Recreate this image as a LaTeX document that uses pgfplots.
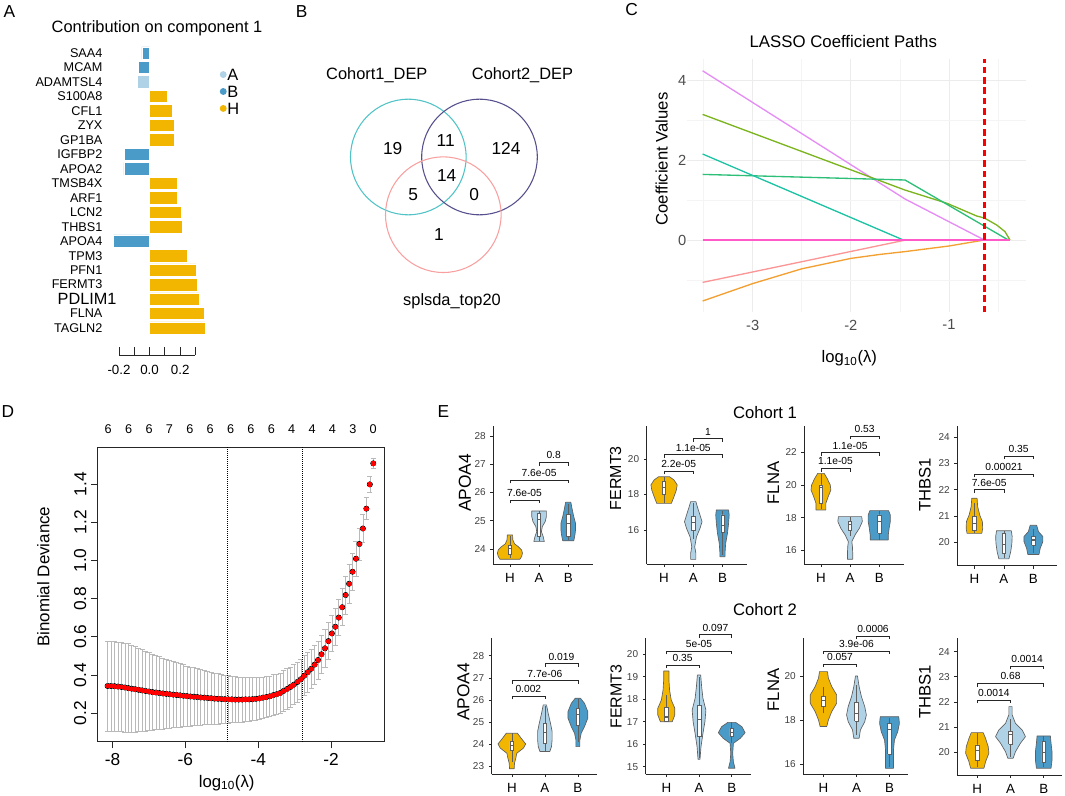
\documentclass[border=0pt]{standalone}
\usepackage{fontspec}
\setmainfont{Liberation Sans}
\usepackage{pgfplots}
\usepackage{pgfplotstable}
\pgfplotsset{compat=1.18}

\newcommand{\fs}[1]{\fontsize{#1}{#1}\selectfont}

\definecolor{colH}{RGB}{242,182,0}
\definecolor{colA}{RGB}{176,210,230}
\definecolor{colB}{RGB}{75,155,200}
\definecolor{vgray}{RGB}{95,95,95}
\definecolor{venn1}{RGB}{80,195,198}
\definecolor{venn2}{RGB}{85,80,140}
\definecolor{venn3}{RGB}{248,160,160}
\definecolor{cviolet}{RGB}{229,140,245}
\definecolor{colive}{RGB}{124,180,30}
\definecolor{cgreen}{RGB}{45,190,120}
\definecolor{cteal}{RGB}{30,195,165}
\definecolor{csalmon}{RGB}{252,150,150}
\definecolor{corange}{RGB}{242,160,50}
\definecolor{cmag}{RGB}{255,90,200}
\definecolor{grid1}{RGB}{236,236,236}
\definecolor{grid2}{RGB}{244,244,244}
\definecolor{dotred}{RGB}{255,0,0}

\pgfplotsset{
  /pgf/number format/assume math mode=true,
  vstyle/.style={
    scale only axis, anchor=south west, clip=false,
    axis lines=left, axis line style={-, black!85, line width=0.5pt},
    tick align=outside, major tick length=2.2pt, tick style={black!85, line width=0.5pt},
    xtick={1,2,3}, xticklabels={H,A,B},
    xticklabel style={font=\fs{10}, black, yshift=-1pt},
    yticklabel style={font=\fs{7.5}, black!75},
  },
}

% violin outline: w = signed half width, right side up then left side down
\newcommand{\violin}[3]{%
  \addplot[fill=#2, draw=vgray, line width=0.5pt, line join=round] table[x expr=#1+\thisrow{w}, y=y] {#3};
}
% box: centre, lower whisker, lower quartile, median, upper quartile, upper whisker
\pgfplotstableread[row sep=\\]{dx q\\ -0.057 0\\ 0.057 0\\ 0.057 1\\ -0.057 1\\ -0.057 0\\}\boxshape
\pgfplotstableread[row sep=\\]{dx q\\ -0.057 0\\ 0.057 0\\}\medshape
\newcommand{\boxp}[6]{%
  \addplot[vgray, line width=0.45pt] coordinates {(#1,#2) (#1,#6)};
  \addplot[fill=white, draw=vgray, line width=0.45pt] table[x expr=#1+\thisrow{dx}, y expr=#3+\thisrow{q}*(#5-#3)] {\boxshape};
  \addplot[vgray, line width=0.8pt] table[x expr=#1+\thisrow{dx}, y expr=#4+\thisrow{q}] {\medshape};
}
\newcommand{\brk}[6]{%
  \addplot[black!85, line width=0.5pt] coordinates {(#1,#5) (#1,#4) (#2,#4) (#2,#5)};
  \node[font=\fs{7.7}, anchor=south, inner sep=0pt, yshift=2.2pt] at (axis cs:#3,#4) {#6};
}

% cohort 1
\pgfplotstableread[row sep=\\]{w y\\ 0.34 23.634\\ 0.40 23.73\\ 0.43 23.85\\ 0.40 23.965\\ 0.29 24.08\\ 0.16 24.18\\ 0.10 24.32\\ 0.09 24.496\\ -0.09 24.496\\ -0.10 24.32\\ -0.16 24.18\\ -0.29 24.08\\ -0.40 23.965\\ -0.43 23.85\\ -0.40 23.73\\ -0.34 23.634\\ 0.34 23.634\\}\vaH
\pgfplotstableread[row sep=\\]{w y\\ 0.18 24.26\\ 0.14 24.44\\ 0.08 24.61\\ 0.11 24.79\\ 0.21 24.97\\ 0.25 25.145\\ 0.25 25.345\\ -0.25 25.345\\ -0.25 25.145\\ -0.21 24.97\\ -0.11 24.79\\ -0.08 24.61\\ -0.14 24.44\\ -0.18 24.26\\ 0.18 24.26\\}\vaA
\pgfplotstableread[row sep=\\]{w y\\ 0.19 24.29\\ 0.23 24.50\\ 0.25 24.67\\ 0.25 24.91\\ 0.19 25.14\\ 0.14 25.38\\ 0.09 25.65\\ -0.09 25.65\\ -0.14 25.38\\ -0.19 25.14\\ -0.25 24.91\\ -0.25 24.67\\ -0.23 24.50\\ -0.19 24.29\\ 0.19 24.29\\}\vaB
\pgfplotstableread[row sep=\\]{w y\\ 0.25 17.50\\ 0.34 17.88\\ 0.42 18.25\\ 0.45 18.54\\ 0.34 18.82\\ 0.19 19.0\\ -0.19 19.0\\ -0.34 18.82\\ -0.45 18.54\\ -0.42 18.25\\ -0.34 17.88\\ -0.25 17.50\\ 0.25 17.50\\}\vbH
\pgfplotstableread[row sep=\\]{w y\\ 0.09 14.35\\ 0.09 14.69\\ 0.05 15.06\\ 0.11 15.62\\ 0.23 16.09\\ 0.30 16.47\\ 0.23 16.85\\ 0.14 17.31\\ 0.09 17.60\\ -0.09 17.60\\ -0.14 17.31\\ -0.23 16.85\\ -0.30 16.47\\ -0.23 16.09\\ -0.11 15.62\\ -0.05 15.06\\ -0.09 14.69\\ -0.09 14.35\\ 0.09 14.35\\}\vbA
\pgfplotstableread[row sep=\\]{w y\\ 0.09 14.50\\ 0.09 14.78\\ 0.11 15.25\\ 0.17 15.81\\ 0.21 16.38\\ 0.23 16.85\\ 0.21 17.13\\ -0.21 17.13\\ -0.23 16.85\\ -0.21 16.38\\ -0.17 15.81\\ -0.11 15.25\\ -0.09 14.78\\ -0.09 14.50\\ 0.09 14.50\\}\vbB
\pgfplotstableread[row sep=\\]{w y\\ 0.17 18.47\\ 0.17 18.88\\ 0.25 19.29\\ 0.34 19.69\\ 0.32 20.0\\ 0.21 20.41\\ 0.11 20.71\\ -0.11 20.71\\ -0.21 20.41\\ -0.32 20.0\\ -0.34 19.69\\ -0.25 19.29\\ -0.17 18.88\\ -0.17 18.47\\ 0.17 18.47\\}\vcH
\pgfplotstableread[row sep=\\]{w y\\ 0.09 15.45\\ 0.09 15.82\\ 0.08 16.22\\ 0.06 16.53\\ 0.17 16.94\\ 0.32 17.35\\ 0.42 17.76\\ 0.40 18.06\\ -0.40 18.06\\ -0.42 17.76\\ -0.32 17.35\\ -0.17 16.94\\ -0.06 16.53\\ -0.08 16.22\\ -0.09 15.82\\ -0.09 15.45\\ 0.09 15.45\\}\vcA
\pgfplotstableread[row sep=\\]{w y\\ 0.31 16.63\\ 0.31 16.94\\ 0.34 17.35\\ 0.38 17.76\\ 0.38 18.16\\ 0.32 18.43\\ -0.32 18.43\\ -0.38 18.16\\ -0.38 17.76\\ -0.34 17.35\\ -0.31 16.94\\ -0.31 16.63\\ 0.31 16.63\\}\vcB
\pgfplotstableread[row sep=\\]{w y\\ 0.25 20.34\\ 0.28 20.53\\ 0.27 20.79\\ 0.18 21.04\\ 0.11 21.36\\ 0.09 21.68\\ -0.09 21.68\\ -0.11 21.36\\ -0.18 21.04\\ -0.27 20.79\\ -0.28 20.53\\ -0.25 20.34\\ 0.25 20.34\\}\vdH
\pgfplotstableread[row sep=\\]{w y\\ 0.17 19.37\\ 0.23 19.64\\ 0.27 19.96\\ 0.28 20.22\\ 0.25 20.44\\ -0.25 20.44\\ -0.28 20.22\\ -0.27 19.96\\ -0.23 19.64\\ -0.17 19.37\\ 0.17 19.37\\}\vdA
\pgfplotstableread[row sep=\\]{w y\\ 0.19 19.54\\ 0.23 19.77\\ 0.32 20.03\\ 0.32 20.22\\ 0.17 20.41\\ 0.11 20.65\\ -0.11 20.65\\ -0.17 20.41\\ -0.32 20.22\\ -0.32 20.03\\ -0.23 19.77\\ -0.19 19.54\\ 0.19 19.54\\}\vdB
% cohort 2
\pgfplotstableread[row sep=\\]{w y\\ 0.07 22.9\\ 0.08 23.15\\ 0.12 23.38\\ 0.15 23.6\\ 0.35 23.83\\ 0.42 24.02\\ 0.28 24.28\\ 0.17 24.5\\ -0.17 24.5\\ -0.28 24.28\\ -0.42 24.02\\ -0.35 23.83\\ -0.15 23.6\\ -0.12 23.38\\ -0.08 23.15\\ -0.07 22.9\\ 0.07 22.9\\}\veH
\pgfplotstableread[row sep=\\]{w y\\ 0.15 23.68\\ 0.20 23.9\\ 0.22 24.2\\ 0.22 24.58\\ 0.17 24.95\\ 0.10 25.4\\ 0.05 25.78\\ -0.05 25.78\\ -0.10 25.4\\ -0.17 24.95\\ -0.22 24.58\\ -0.22 24.2\\ -0.20 23.9\\ -0.15 23.68\\ 0.15 23.68\\}\veA
\pgfplotstableread[row sep=\\]{w y\\ 0.06 23.9\\ 0.06 24.2\\ 0.10 24.5\\ 0.20 24.8\\ 0.30 25.18\\ 0.30 25.48\\ 0.20 25.85\\ 0.08 26.08\\ -0.08 26.08\\ -0.20 25.85\\ -0.30 25.48\\ -0.30 25.18\\ -0.20 24.8\\ -0.10 24.5\\ -0.06 24.2\\ -0.06 23.9\\ 0.06 23.9\\}\veB
\pgfplotstableread[row sep=\\]{w y\\ 0.18 17.0\\ 0.26 17.3\\ 0.26 17.6\\ 0.15 17.97\\ 0.10 18.41\\ 0.08 18.86\\ 0.08 19.26\\ -0.08 19.26\\ -0.08 18.86\\ -0.10 18.41\\ -0.15 17.97\\ -0.26 17.6\\ -0.26 17.3\\ -0.18 17.0\\ 0.18 17.0\\}\vfH
\pgfplotstableread[row sep=\\]{w y\\ 0.03 15.33\\ 0.06 15.89\\ 0.12 16.48\\ 0.18 17.0\\ 0.21 17.52\\ 0.12 18.04\\ 0.08 18.56\\ 0.05 19.08\\ -0.05 19.08\\ -0.08 18.56\\ -0.12 18.04\\ -0.21 17.52\\ -0.18 17.0\\ -0.12 16.48\\ -0.06 15.89\\ -0.03 15.33\\ 0.03 15.33\\}\vfA
\pgfplotstableread[row sep=\\]{w y\\ 0.10 14.93\\ 0.05 15.22\\ 0.03 15.59\\ 0.05 16.04\\ 0.26 16.26\\ 0.41 16.51\\ 0.31 16.78\\ 0.12 16.97\\ -0.12 16.97\\ -0.31 16.78\\ -0.41 16.51\\ -0.26 16.26\\ -0.05 16.04\\ -0.03 15.59\\ -0.05 15.22\\ -0.10 14.93\\ 0.10 14.93\\}\vfB
\pgfplotstableread[row sep=\\]{w y\\ 0.10 17.7\\ 0.15 18.0\\ 0.25 18.38\\ 0.40 18.76\\ 0.40 19.14\\ 0.25 19.52\\ 0.15 19.9\\ 0.12 20.2\\ -0.12 20.2\\ -0.15 19.9\\ -0.25 19.52\\ -0.40 19.14\\ -0.40 18.76\\ -0.25 18.38\\ -0.15 18.0\\ -0.10 17.7\\ 0.10 17.7\\}\vgH
\pgfplotstableread[row sep=\\]{w y\\ 0.08 17.17\\ 0.12 17.55\\ 0.25 17.92\\ 0.30 18.23\\ 0.25 18.61\\ 0.15 19.06\\ 0.08 19.52\\ 0.03 20.0\\ -0.03 20.0\\ -0.08 19.52\\ -0.15 19.06\\ -0.25 18.61\\ -0.30 18.23\\ -0.25 17.92\\ -0.12 17.55\\ -0.08 17.17\\ 0.08 17.17\\}\vgA
\pgfplotstableread[row sep=\\]{w y\\ 0.12 15.8\\ 0.12 16.18\\ 0.12 16.64\\ 0.15 17.09\\ 0.25 17.47\\ 0.30 17.85\\ 0.28 18.15\\ -0.28 18.15\\ -0.30 17.85\\ -0.25 17.47\\ -0.15 17.09\\ -0.12 16.64\\ -0.12 16.18\\ -0.12 15.8\\ 0.12 15.8\\}\vgB
\pgfplotstableread[row sep=\\]{w y\\ 0.20 19.35\\ 0.25 19.61\\ 0.35 19.95\\ 0.33 20.21\\ 0.25 20.54\\ 0.18 20.77\\ -0.18 20.77\\ -0.25 20.54\\ -0.33 20.21\\ -0.35 19.95\\ -0.25 19.61\\ -0.20 19.35\\ 0.20 19.35\\}\vhH
\pgfplotstableread[row sep=\\]{w y\\ 0.08 19.75\\ 0.15 20.01\\ 0.30 20.35\\ 0.45 20.61\\ 0.35 20.88\\ 0.15 21.14\\ 0.05 21.48\\ 0.05 21.81\\ -0.05 21.81\\ -0.05 21.48\\ -0.15 21.14\\ -0.35 20.88\\ -0.45 20.61\\ -0.30 20.35\\ -0.15 20.01\\ -0.08 19.75\\ 0.08 19.75\\}\vhA
\pgfplotstableread[row sep=\\]{w y\\ 0.22 19.35\\ 0.25 19.68\\ 0.25 20.01\\ 0.22 20.35\\ 0.20 20.64\\ -0.20 20.64\\ -0.22 20.35\\ -0.25 20.01\\ -0.25 19.68\\ -0.22 19.35\\ 0.22 19.35\\}\vhB

% cross-validation curve
\pgfplotstableread{
x y e
-8.137 0.343 0.235
-8.042 0.343 0.235
-7.947 0.342 0.235
-7.853 0.340 0.234
-7.758 0.338 0.234
-7.663 0.335 0.233
-7.568 0.332 0.232
-7.474 0.329 0.227
-7.379 0.326 0.223
-7.284 0.323 0.218
-7.189 0.320 0.214
-7.094 0.317 0.209
-7.000 0.314 0.205
-6.905 0.311 0.200
-6.810 0.309 0.195
-6.715 0.306 0.191
-6.621 0.304 0.186
-6.526 0.302 0.181
-6.431 0.300 0.177
-6.336 0.298 0.173
-6.241 0.296 0.170
-6.147 0.294 0.166
-6.052 0.292 0.162
-5.957 0.290 0.158
-5.862 0.288 0.155
-5.768 0.287 0.152
-5.673 0.285 0.148
-5.578 0.283 0.145
-5.483 0.282 0.142
-5.388 0.280 0.139
-5.294 0.279 0.136
-5.199 0.277 0.133
-5.104 0.276 0.131
-5.009 0.275 0.128
-4.915 0.274 0.126
-4.820 0.273 0.124
-4.725 0.273 0.122
-4.630 0.272 0.121
-4.535 0.272 0.119
-4.441 0.272 0.117
-4.346 0.273 0.116
-4.251 0.273 0.114
-4.156 0.274 0.113
-4.062 0.276 0.111
-3.967 0.278 0.110
-3.872 0.282 0.109
-3.777 0.285 0.108
-3.682 0.289 0.107
-3.588 0.295 0.107
-3.493 0.300 0.106
-3.398 0.306 0.106
-3.303 0.317 0.106
-3.209 0.327 0.106
-3.114 0.338 0.105
-3.019 0.350 0.105
-2.924 0.364 0.105
-2.830 0.378 0.105
-2.735 0.397 0.104
-2.640 0.415 0.103
-2.545 0.433 0.102
-2.450 0.455 0.101
-2.356 0.479 0.100
-2.261 0.509 0.099
-2.166 0.540 0.098
-2.071 0.578 0.096
-1.977 0.618 0.095
-1.882 0.653 0.095
-1.787 0.701 0.095
-1.692 0.755 0.097
-1.597 0.819 0.099
-1.503 0.878 0.100
-1.408 0.941 0.096
-1.313 1.009 0.091
-1.218 1.086 0.084
-1.124 1.167 0.072
-1.029 1.271 0.058
-0.934 1.398 0.041
-0.839 1.508 0.026
}\devtab

\begin{document}
\begin{tikzpicture}
\useasboundingbox (0,0) rectangle (798.75pt,-597pt);

% ---------------- A: loadings
\begin{axis}[at={(89.25pt,-266.25pt)}, anchor=south west, scale only axis,
  width=57.375pt, height=231.9pt, clip=false,
  xmin=-0.2, xmax=0.3, ymin=-0.866, ymax=20.5,
  axis x line=bottom, axis y line=left, axis line style={-},
  x axis line style={black!85, line width=0.6pt}, y axis line style={draw=none},
  xtick={-0.2,-0.1,0,0.1,0.2,0.3}, xticklabels={-0.2,,0.0,,0.2,},
  tick align=inside, major tick length=6pt,
  xtick style={black!85, line width=0.6pt}, ytick style={draw=none},
  xticklabel style={font=\fs{10}, yshift=-4pt},
  ytick={1,...,20},
  yticklabels={TAGLN2,FLNA,{\fs{12.2}PDLIM1\hspace*{-10.5pt}},FERMT3,PFN1,TPM3,APOA4,THBS1,LCN2,ARF1,TMSB4X,APOA2,IGFBP2,GP1BA,ZYX,CFL1,S100A8,ADAMTSL4,MCAM,SAA4},
  yticklabel style={font=\fs{9.5}, xshift=-8.9pt},
  legend style={at={(1.314,0.932)}, anchor=north west, draw=none, fill=none,
    inner sep=0pt, row sep=2.1pt, font=\fs{12.3},
    nodes={font=\fs{12.3}, inner sep=0.5pt, text height=9.6pt, text depth=0pt}, cells={anchor=west}},
  legend image code/.code={\fill[#1, draw=none] (2.6pt,-0.3pt) circle (2.6pt);},
]
\addplot[xbar, bar shift=0pt, bar width=0.86, fill=colA, draw=white, line width=0.4pt]
  coordinates {(-0.083,18)};
\addplot[xbar, bar shift=0pt, bar width=0.86, fill=colB, draw=white, line width=0.4pt]
  coordinates {(-0.050,20) (-0.072,19) (-0.166,13) (-0.168,12) (-0.236,7)};
\addplot[xbar, bar shift=0pt, bar width=0.86, fill=colH, draw=white, line width=0.4pt]
  coordinates {(0.363,1) (0.357,2) (0.326,3) (0.311,4) (0.306,5) (0.245,6) (0.212,8)
    (0.206,9) (0.184,10) (0.179,11) (0.164,14) (0.158,15) (0.151,16) (0.114,17)};
\legend{A,B,H}
\end{axis}

% ---------------- B: Venn
\begin{axis}[at={(247.5pt,-225pt)}, anchor=south west, scale only axis,
  width=172.5pt, height=195pt, xmin=330, xmax=560, ymin=-300, ymax=-40,
  hide axis, clip=false]
\draw[venn1, line width=0.8pt] (axis cs:408.3,-157) circle[radius=43.35pt];
\draw[venn2, line width=0.8pt] (axis cs:479.5,-157) circle[radius=43.35pt];
\draw[venn3, line width=0.8pt] (axis cs:443.3,-214.7) circle[radius=43.35pt];
\addplot[draw=none, mark=none, nodes near coords, point meta=explicit symbolic,
  nodes near coords style={font=\fs{13}, black, anchor=center}]
  coordinates {(392.7,-148.3)[19] (445.7,-140.7)[11] (506,-148.3)[124]
    (446.7,-176)[14] (413.3,-195)[5] (474.3,-195)[0] (439,-235)[1]};
\end{axis}

% ---------------- C: coefficient paths
\begin{axis}[at={(515.18pt,-234.3pt)}, anchor=south west, scale only axis,
  width=254pt, height=189.9pt,
  xmin=-3.67, xmax=-0.22, ymin=-1.81, ymax=4.52,
  axis line style={draw=none}, major tick length=0pt, minor tick length=0pt,
  xtick={-3,-2,-1}, ytick={0,2,4},
  minor xtick={-3.5,-2.5,-1.5,-0.5}, minor ytick={-1,1,3},
  grid=both, major grid style={grid1, line width=0.6pt}, minor grid style={grid2, line width=0.45pt},
  xticklabel style={font=\fs{11}, black!70, yshift=-2pt},
  yticklabel style={font=\fs{11}, black!70, xshift=3pt},
]
\addplot[cviolet, line width=1pt] coordinates {(-3.51,4.23) (-1.448,1.025) (-0.64,0)};
\addplot[colive, line width=1pt] coordinates {(-3.51,3.14) (-1.45,1.25) (-1.023,0.92)
  (-0.718,0.6) (-0.64,0.55) (-0.514,0.375) (-0.43,0.21) (-0.379,0)};
\addplot[cgreen, line width=1pt] coordinates {(-3.51,1.64) (-1.448,1.5) (-0.396,0)};
\addplot[cteal, line width=1pt] coordinates {(-3.51,2.15) (-1.465,0)};
\addplot[csalmon, line width=1pt] coordinates {(-3.51,-1.06) (-1.44,0)};
\addplot[corange, line width=1pt] coordinates {(-3.51,-1.525) (-3.0,-1.09) (-2.5,-0.72)
  (-2.0,-0.46) (-1.703,-0.36) (-1.448,-0.29) (-1.0,-0.15) (-0.64,0)};
\addplot[cmag, line width=1pt] coordinates {(-3.51,0) (-0.379,0)};
\addplot[red, line width=1.8pt, dash pattern=on 5pt off 2.8pt] coordinates {(-0.64,-1.81) (-0.64,4.52)};
\end{axis}

% ---------------- D: cross-validation
\begin{axis}[at={(73.28pt,-556.28pt)}, anchor=south west, scale only axis,
  width=214.73pt, height=220.8pt,
  xmin=-8.41, xmax=-0.544, ymin=0.0514, ymax=1.592,
  axis line style={black!85, line width=0.6pt},
  xtick={-8,-6,-4,-2}, ytick={0.2,0.4,0.6,0.8,1.0,1.2,1.4},
  tick pos=left, tick align=outside, major tick length=5pt,
  tick style={black!85, line width=0.6pt},
  xticklabel style={font=\fs{13}},
  yticklabel style={font=\fs{13}, rotate=90, anchor=south,
    /pgf/number format/fixed, /pgf/number format/fixed zerofill, /pgf/number format/precision=1},
]
\addplot[only marks, mark=none, error bars/.cd, y dir=both, y explicit,
  error bar style={color=gray!55, line width=0.45pt},
  error mark options={rotate=90, mark size=1.9pt, gray!55, line width=0.45pt}]
  table[x=x, y=y, y error=e] {\devtab};
\addplot[only marks, mark=*, mark size=1.5pt, dotred, mark options={solid, fill=dotred, draw=dotred, line width=0pt}] table[x=x, y=y] {\devtab};
\addplot[black, densely dotted, line width=0.5pt] coordinates {(-4.852,0.0514) (-4.852,1.592)};
\addplot[black, densely dotted, line width=0.5pt] coordinates {(-2.80,0.0514) (-2.80,1.592)};
\end{axis}
\begin{axis}[at={(73.28pt,-556.28pt)}, anchor=south west, scale only axis,
  width=214.73pt, height=220.8pt,
  xmin=-8.41, xmax=-0.544, ymin=0, ymax=1,
  axis x line=top, axis y line=none, x axis line style={draw=none},
  xtick={-8.12,-7.56,-7.00,-6.44,-5.88,-5.32,-4.76,-4.20,-3.64,-3.08,-2.52,-1.96,-1.40,-0.84},
  xticklabels={6,6,6,7,6,6,6,6,6,4,4,4,3,0},
  major tick length=0pt, xticklabel style={font=\fs{9.5}, yshift=7pt},
]
\addplot[draw=none, mark=none] coordinates {(-4,0.5)};
\end{axis}

% ---------------- E: violins, cohort 1
\begin{axis}[vstyle, at={(369.98pt,-423.23pt)}, width=75pt, height=103.73pt,
  xmin=0.43, xmax=3.86, ymin=23.457, ymax=28.35, ytick={24,25,26,27,28}]
\violin{1}{colH}{\vaH}\violin{2}{colA}{\vaA}\violin{3}{colB}{\vaB}
\boxp{1}{23.68}{23.82}{24.0}{24.14}{24.45}
\boxp{2}{24.27}{24.44}{25.05}{25.26}{25.34}
\boxp{3}{24.3}{24.44}{24.91}{25.23}{25.6}
\brk{1}{2}{1.5}{25.73}{25.61}{7.6e-05}
\brk{1}{3}{2}{26.44}{26.32}{7.6e-05}
\brk{2}{3}{2.5}{27.07}{26.95}{0.8}
\end{axis}

\begin{axis}[vstyle, at={(485.03pt,-423.23pt)}, width=75pt, height=103.73pt,
  xmin=0.406, xmax=3.83, ymin=14.07, ymax=21.86, ytick={16,18,20}]
\violin{1}{colH}{\vbH}\violin{2}{colA}{\vbA}\violin{3}{colB}{\vbB}
\boxp{1}{17.55}{18.03}{18.4}{18.72}{19.0}
\boxp{2}{15.5}{15.96}{16.43}{16.75}{17.5}
\boxp{3}{14.6}{15.85}{16.28}{16.85}{17.1}
\brk{1}{2}{1.5}{19.32}{19.13}{2.2e-05}
\brk{1}{3}{2}{20.26}{20.07}{1.1e-05}
\brk{2}{3}{2.5}{21.16}{20.97}{1}
\end{axis}

\begin{axis}[vstyle, at={(603.23pt,-423.23pt)}, width=75pt, height=103.73pt,
  xmin=0.43, xmax=3.86, ymin=15.14, ymax=23.61, ytick={16,18,20,22}]
\violin{1}{colH}{\vcH}\violin{2}{colA}{\vcA}\violin{3}{colB}{\vcB}
\boxp{1}{18.5}{18.88}{19.84}{20.0}{20.7}
\boxp{2}{16.9}{17.2}{17.55}{17.76}{18.05}
\boxp{3}{16.65}{17.04}{17.76}{18.16}{18.4}
\brk{1}{2}{1.5}{21.02}{20.82}{1.1e-05}
\brk{1}{3}{2}{21.98}{21.78}{1.1e-05}
\brk{2}{3}{2.5}{23.0}{22.8}{0.53}
\end{axis}

\begin{axis}[vstyle, at={(717.98pt,-424.28pt)}, width=74.78pt, height=104.78pt,
  xmin=0.42, xmax=3.8, ymin=19.11, ymax=24.43, ytick={20,21,22,23,24}]
\violin{1}{colH}{\vdH}\violin{2}{colA}{\vdA}\violin{3}{colB}{\vdB}
\boxp{1}{20.36}{20.44}{20.7}{20.98}{21.5}
\boxp{2}{19.4}{19.58}{19.9}{20.34}{20.44}
\boxp{3}{19.6}{19.9}{20.09}{20.22}{20.5}
\brk{1}{2}{1.5}{22.0}{21.875}{7.6e-05}
\brk{1}{3}{2}{22.6}{22.475}{0.00021}
\brk{2}{3}{2.5}{23.29}{23.165}{0.35}
\end{axis}

% ---------------- E: violins, cohort 2
\begin{axis}[vstyle, at={(368.78pt,-580.73pt)}, width=78.75pt, height=102.45pt,
  xmin=0.39, xmax=3.57, ymin=22.65, ymax=28.81, ytick={23,24,25,26,27,28}]
\violin{1}{colH}{\veH}\violin{2}{colA}{\veA}\violin{3}{colB}{\veB}
\boxp{1}{23.2}{23.75}{23.95}{24.13}{24.5}
\boxp{2}{23.7}{24.05}{24.55}{24.95}{25.75}
\boxp{3}{24.1}{24.88}{25.33}{25.63}{26.05}
\brk{1}{2}{1.5}{26.18}{26.03}{0.002}
\brk{1}{3}{2}{26.87}{26.72}{7.7e-06}
\brk{2}{3}{2.5}{27.65}{27.5}{0.019}
\end{axis}

\begin{axis}[vstyle, at={(484.28pt,-580.73pt)}, width=78.75pt, height=102.45pt,
  xmin=0.37, xmax=3.58, ymin=14.66, ymax=20.74, ytick={15,16,17,18,19,20}]
\violin{1}{colH}{\vfH}\violin{2}{colA}{\vfA}\violin{3}{colB}{\vfB}
\boxp{1}{17.0}{17.03}{17.21}{17.64}{18.2}
\boxp{2}{15.4}{16.34}{17.08}{17.74}{19.0}
\boxp{3}{16.05}{16.34}{16.51}{16.7}{16.97}
\brk{1}{2}{1.5}{19.53}{19.38}{0.35}
\brk{1}{3}{2}{20.15}{20.0}{5e-05}
\brk{2}{3}{2.5}{20.89}{20.74}{0.097}
\end{axis}

\begin{axis}[vstyle, at={(602.48pt,-580.73pt)}, width=78.75pt, height=102.45pt,
  xmin=0.39, xmax=3.57, ymin=15.53, ymax=21.74, ytick={16,18,20}]
\violin{1}{colH}{\vgH}\violin{2}{colA}{\vgA}\violin{3}{colB}{\vgB}
\boxp{1}{18.3}{18.6}{18.88}{19.09}{19.5}
\boxp{2}{17.3}{17.95}{18.3}{18.79}{19.6}
\boxp{3}{15.85}{16.44}{17.58}{17.85}{18.1}
\brk{1}{2}{1.5}{20.55}{20.4}{0.057}
\brk{1}{3}{2}{21.14}{20.99}{3.9e-06}
\brk{2}{3}{2.5}{21.82}{21.67}{0.0006}
\end{axis}

\begin{axis}[vstyle, at={(717.98pt,-581.25pt)}, width=78.53pt, height=102.98pt,
  xmin=0.4, xmax=3.55, ymin=19.08, ymax=24.56, ytick={20,21,22,23,24}]
\violin{1}{colH}{\vhH}\violin{2}{colA}{\vhA}\violin{3}{colB}{\vhB}
\boxp{1}{19.4}{19.68}{20.04}{20.28}{20.75}
\boxp{2}{19.8}{20.32}{20.68}{20.81}{21.3}
\boxp{3}{19.4}{19.57}{19.97}{20.41}{20.62}
\brk{1}{2}{1.5}{22.07}{21.94}{0.0014}
\brk{1}{3}{2}{22.74}{22.61}{0.68}
\brk{2}{3}{2.5}{23.43}{23.3}{0.0014}
\end{axis}

% ---------------- texts (pixel grid of the reference)
\begin{scope}[x=0.75pt, y=-0.75pt]
\node[font=\fs{13}] at (9.3,11.7) {A};
\node[font=\fs{12.3}] at (157,28) {Contribution on component 1};
\node[font=\fs{13}] at (301.7,11.7) {B};
\node[font=\fs{12.3}] at (376.8,75) {Cohort1\_DEP};
\node[font=\fs{12.3}] at (522.5,75) {Cohort2\_DEP};
\node[font=\fs{12.3}] at (452,301.7) {splsda\_top20};
\node[font=\fs{13}] at (631.7,10) {C};
\node[font=\fs{12.6}] at (843.3,41.7) {LASSO Coefficient Paths};
\node[font=\fs{12.5}, rotate=90] at (661.7,159) {Coefficient Values};
\node[font=\fs{12.5}] at (849.3,358.3) {log\textsubscript{10}(λ)};
\node[font=\fs{13}] at (8,412) {D};
\node[font=\fs{12.7}, rotate=90] at (43.3,576.7) {Binomial Deviance};
\node[font=\fs{12.6}] at (226.7,782.7) {log\textsubscript{10}(λ)};
\node[font=\fs{13}] at (443.3,411.7) {E};
\node[font=\fs{12.5}] at (765,412.5) {Cohort 1};
\node[font=\fs{12.5}] at (765,610) {Cohort 2};
\node[font=\fs{13}, rotate=90] at (465,483) {APOA4};
\node[font=\fs{12}, rotate=90] at (615.7,478.3) {FERMT3};
\node[font=\fs{12.5}, rotate=90] at (773.3,483) {FLNA};
\node[font=\fs{12.5}, rotate=90] at (925,485) {THBS1};
\node[font=\fs{13}, rotate=90] at (463.3,691.7) {APOA4};
\node[font=\fs{12}, rotate=90] at (616,696.7) {FERMT3};
\node[font=\fs{12.5}, rotate=90] at (773.3,690) {FLNA};
\node[font=\fs{12.5}, rotate=90] at (925,691.7) {THBS1};
\end{scope}
\end{tikzpicture}
\end{document}
